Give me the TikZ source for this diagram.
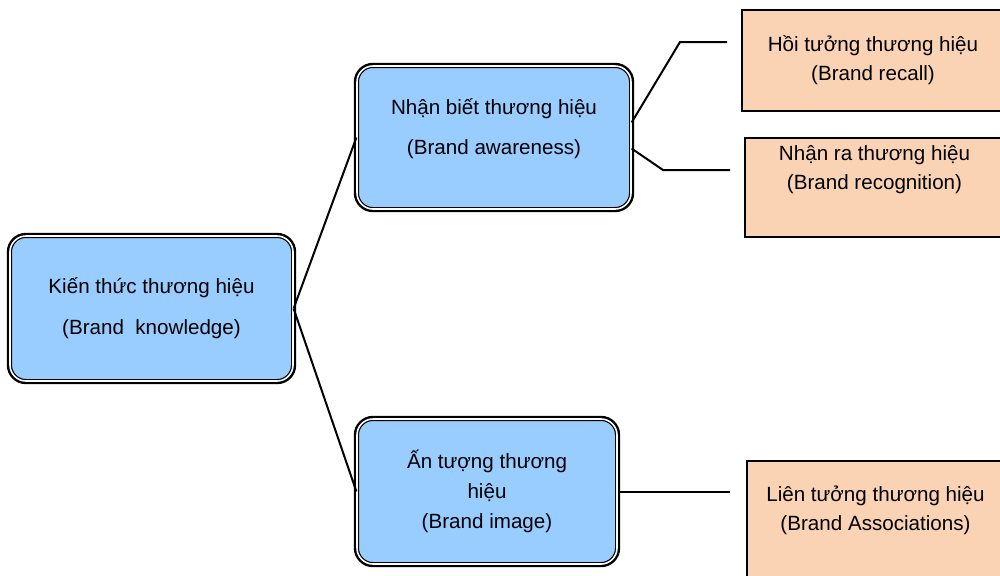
\documentclass[tikz,border=0pt]{standalone}
\usepackage{fontspec}
\setmainfont{Liberation Sans}
\usetikzlibrary{positioning}
\definecolor{skyblue}{HTML}{99CCFF}
\definecolor{peach}{HTML}{F9D3B3}
\begin{document}
\begin{tikzpicture}[x=0.5pt,y=-0.5pt]
      \tikzstyle{blue box}=[draw=black,fill=skyblue,line width=0.6pt,double=white,double distance=0.8pt,preaction={draw=black,line width=3.2pt},rounded corners=8pt,align=center,font=\fontsize{10.3}{15}\selectfont]
      \tikzstyle{peach box}=[draw=black,fill=peach,line width=1pt,inner ysep=1pt,align=center,font=\fontsize{10.3}{14.5}\selectfont]
      \tikzstyle{link}=[line width=1pt]
      \useasboundingbox (0,0) rectangle (1000,575);

      \node[blue box,minimum width=141.5pt,minimum height=72.5pt] (know) at (151.5,308.5) {Kiến thức thương hiệu\\[5.5pt](Brand\ \ knowledge)};
      \node[blue box,minimum width=137pt,minimum height=71.5pt,text depth=10.6pt] (aware) at (494,137.5) {Nhận biết thương hiệu\\[5pt](Brand awareness)};
      \node[blue box,minimum width=130pt,minimum height=72.5pt] (image) at (487,491.5) {Ấn tượng thương\\hiệu\\(Brand image)};

      \node[peach box,minimum width=131pt,minimum height=50.5pt] (recall) at (873,60.5) {Hồi tưởng thương hiệu\\(Brand recall)};
      \node[peach box,minimum width=129.5pt,minimum height=49.5pt,text depth=20pt] (recog) at (874.5,187.5) {Nhận ra thương hiệu\\(Brand recognition)};
      \node[peach box,minimum width=128.5pt,minimum height=64.5pt,text depth=17pt] (assoc) at (875.5,525.5) {Liên tưởng thương hiệu\\(Brand Associations)};

      \coordinate (recallbend) at (680,42);
      \coordinate (recallend) at (727,42);
      \coordinate (recogbend) at (663,170);
      \coordinate (recogend) at (730,170);
      \coordinate (assocend) at (730,491.5);

      \draw[link] (know.east) -- (aware.west);
      \draw[link] (know.east) -- (image.west);
      \draw[link] ([yshift=7.5pt]aware.east) -- (recallbend) -- (recallend);
      \draw[link] ([yshift=-5.5pt]aware.east) -- (recogbend) -- (recogend);
      \draw[link] (image.east) -- (assocend);
\end{tikzpicture}
\end{document}
